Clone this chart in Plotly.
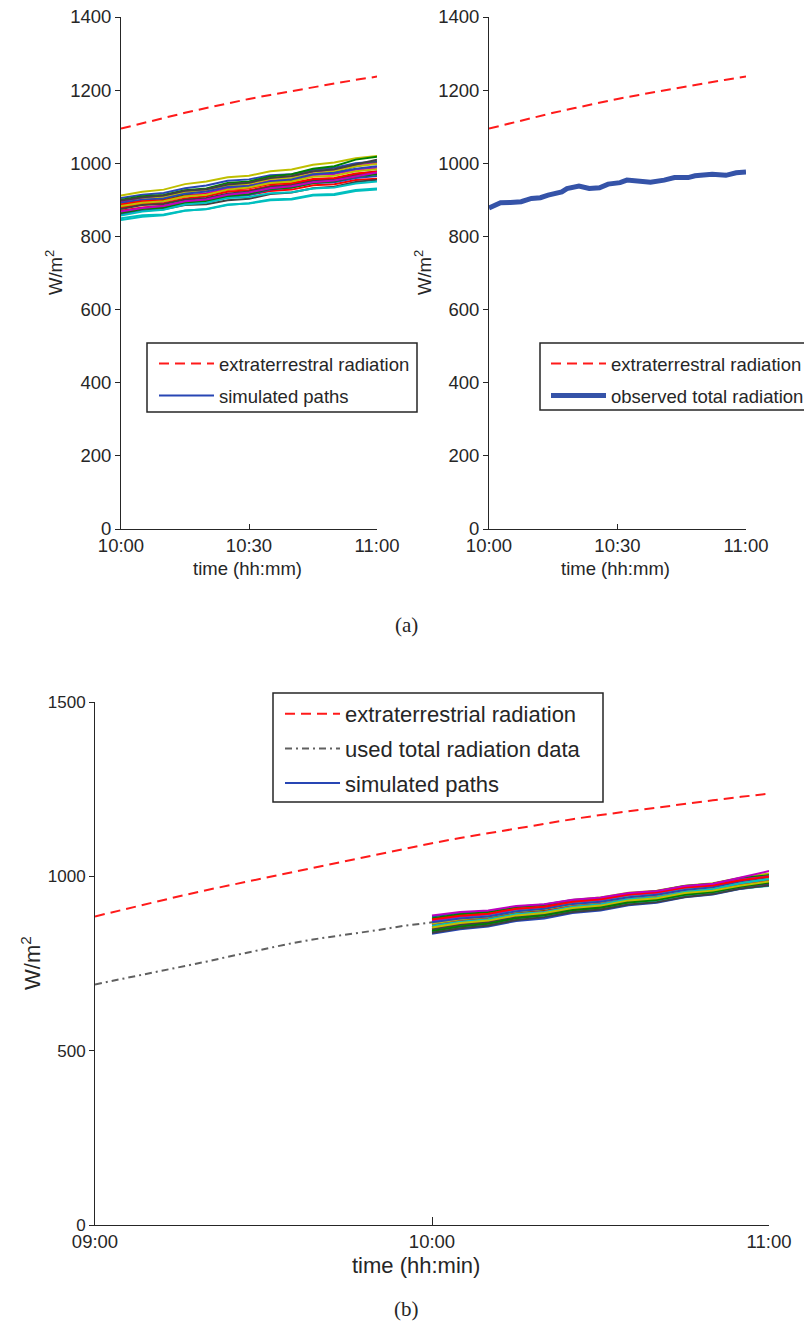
import plotly.graph_objects as go

# ---------------- data (time in minutes after 09:00) ----------------
t5_full = [0, 5, 10, 15, 20, 25, 30, 35, 40, 45, 50, 55, 60,
           65, 70, 75, 80, 85, 90, 95, 100, 105, 110, 115, 120]
ext_rad = [885, 905, 924, 943, 961, 978, 995, 1012, 1029, 1045, 1062, 1078, 1095,
           1110, 1124, 1138, 1151, 1164, 1176, 1187, 1198, 1208, 1218, 1228, 1237]

t_used = [0, 5, 10, 15, 20, 25, 30, 35, 40, 45, 50, 55, 60]
used_rad = [690, 706, 722, 740, 756, 774, 791, 808, 822, 833, 845, 858, 868]

t_obs = [60, 61, 62.7, 65, 67.5, 69.9, 72, 73.8, 76, 77, 78.2, 81, 83.4, 85.8,
         87.8, 90.6, 92.2, 95.3, 97.7, 100.9, 103.3, 106.5, 108.1, 112.1, 115.3, 117.7, 120]
obs_rad = [878, 883, 892, 893, 895, 904, 906, 913, 917, 922, 931, 938, 931, 933,
           943, 947, 954, 952, 948, 954, 961, 961, 966, 970, 967, 974, 976]

t_sim = [60, 65, 70, 75, 80, 85, 90, 95, 100, 105, 110, 115, 120]

sim_a = [
    [905, 914, 919, 932, 939, 952, 956, 967, 970, 982, 988, 1000, 1005],
    [885, 895, 900, 913, 916, 929, 934, 947, 953, 968, 976, 992, 1002],
    [870, 879, 884, 895, 900, 912, 914, 924, 928, 940, 943, 954, 958],
    [850, 858, 860, 871, 874, 886, 891, 901, 903, 914, 916, 927, 931],
    [878, 889, 895, 910, 918, 932, 940, 953, 956, 968, 971, 982, 988],
    [912, 922, 928, 943, 950, 962, 966, 978, 983, 996, 1002, 1014, 1020],
    [862, 870, 874, 886, 888, 899, 903, 916, 920, 932, 936, 949, 955],
    [860, 870, 876, 888, 895, 908, 913, 928, 934, 946, 948, 960, 965],
    [900, 910, 913, 926, 931, 946, 950, 964, 970, 985, 992, 1010, 1018],
    [880, 888, 891, 904, 910, 922, 926, 938, 942, 954, 958, 967, 972],
    [845, 854, 858, 870, 875, 887, 890, 899, 901, 912, 913, 924, 928],
    [895, 905, 910, 922, 928, 941, 946, 959, 964, 977, 981, 994, 1000],
    [890, 901, 907, 920, 924, 938, 944, 957, 960, 972, 978, 992, 998],
    [875, 886, 889, 900, 905, 917, 923, 936, 940, 952, 956, 970, 978],
    [892, 900, 904, 917, 923, 935, 938, 950, 956, 970, 974, 985, 992],
    [865, 875, 879, 892, 897, 910, 916, 930, 934, 946, 951, 964, 970],
    [887, 896, 898, 910, 915, 927, 932, 943, 946, 957, 960, 972, 977],
    [857, 868, 873, 887, 892, 905, 908, 918, 921, 931, 934, 945, 950],
    [868, 878, 883, 896, 901, 914, 920, 932, 937, 948, 953, 965, 975],
    [883, 892, 896, 909, 914, 928, 934, 946, 950, 963, 966, 978, 984],
    [898, 907, 912, 925, 929, 942, 947, 960, 965, 978, 984, 998, 1010],
]

sim_b = [
    [885, 895, 900, 913, 919, 932, 938, 951, 956, 970, 978, 994, 1005],
    [862, 874, 880, 895, 901, 915, 920, 934, 940, 954, 961, 977, 990],
    [850, 863, 871, 886, 893, 908, 914, 929, 935, 950, 958, 974, 983],
    [870, 882, 889, 904, 910, 924, 931, 945, 951, 964, 970, 984, 995],
    [845, 859, 867, 882, 889, 904, 910, 924, 931, 946, 954, 970, 978],
    [878, 890, 896, 911, 918, 932, 939, 953, 959, 973, 980, 996, 1008],
    [855, 868, 875, 890, 896, 911, 918, 932, 938, 953, 960, 975, 986],
    [835, 848, 856, 872, 879, 895, 902, 917, 924, 940, 948, 964, 975],
    [880, 891, 897, 911, 917, 931, 937, 951, 957, 972, 979, 995, 1003],
    [860, 872, 878, 893, 900, 915, 922, 936, 942, 957, 964, 979, 990],
    [840, 854, 862, 878, 886, 901, 908, 922, 929, 944, 951, 966, 972],
    [873, 885, 891, 906, 912, 927, 933, 947, 953, 968, 975, 991, 1000],
    [865, 877, 884, 899, 906, 920, 926, 940, 946, 960, 967, 983, 996],
    [848, 861, 868, 884, 891, 906, 912, 927, 934, 949, 956, 971, 980],
    [868, 879, 885, 900, 907, 921, 927, 940, 947, 961, 969, 986, 998],
    [843, 856, 864, 880, 888, 903, 910, 925, 932, 947, 955, 971, 982],
    [876, 887, 893, 907, 913, 927, 934, 948, 954, 968, 974, 989, 999],
    [858, 870, 877, 892, 898, 913, 920, 934, 940, 955, 963, 980, 992],
    [888, 898, 902, 915, 920, 933, 939, 952, 958, 972, 979, 997, 1015],
    [853, 866, 873, 888, 895, 909, 916, 931, 937, 952, 959, 974, 985],
    [838, 851, 859, 875, 883, 898, 905, 919, 926, 941, 949, 965, 974],
]

path_colors = ["#2846b4", "#008000", "#ff0000", "#00bfbf", "#bf00bf", "#bfbf00", "#404040"]

top_tickvals = [60, 90, 120]
top_ticktext = ["10:00", "10:30", "11:00"]
bot_tickvals = [0, 60, 120]
bot_ticktext = ["09:00", "10:00", "11:00"]

# ---------------- figure ----------------
W, H = 812, 1328
OFF = 8  # page body margin
FONT = "Liberation Sans, Arial, sans-serif"
SERIF = "Liberation Serif, DejaVu Serif, serif"
TXT = "#262626"
RED = "#ff1a1a"
TOPF = 18.5
BOTF = 22

def px(x):
    return (x - OFF) / W

def py(y):
    return 1 - (y - OFF) / H

fig = go.Figure()

# top-left
fig.add_trace(go.Scatter(x=t5_full[12:], y=ext_rad[12:], mode="lines",
                         line=dict(color=RED, width=2, dash="10px,6px"),
                         name="extraterrestral radiation", xaxis="x", yaxis="y",
                         legend="legend", legendrank=1))
for i, p in enumerate(sim_a):
    fig.add_trace(go.Scatter(x=t_sim, y=p, mode="lines",
                             line=dict(color=path_colors[i % 7], width=2),
                             name="simulated paths", showlegend=(i == 0),
                             xaxis="x", yaxis="y", legend="legend", legendrank=2))

# top-right
fig.add_trace(go.Scatter(x=t5_full[12:], y=ext_rad[12:], mode="lines",
                         line=dict(color=RED, width=2, dash="10px,6px"),
                         name="extraterrestral radiation", xaxis="x2", yaxis="y2",
                         legend="legend2", legendrank=1))
fig.add_trace(go.Scatter(x=t_obs, y=obs_rad, mode="lines",
                         line=dict(color="#3553a8", width=5),
                         name="observed total radiation", xaxis="x2", yaxis="y2",
                         legend="legend2", legendrank=2))

# bottom
fig.add_trace(go.Scatter(x=t5_full, y=ext_rad, mode="lines",
                         line=dict(color=RED, width=2, dash="10px,6px"),
                         name="extraterrestrial radiation", xaxis="x3", yaxis="y3",
                         legend="legend3", legendrank=1))
fig.add_trace(go.Scatter(x=t_used, y=used_rad, mode="lines",
                         line=dict(color="#606060", width=2, dash="7px,4px,2px,4px"),
                         name="used total radiation data", xaxis="x3", yaxis="y3",
                         legend="legend3", legendrank=2))
for i, p in enumerate(sim_b):
    fig.add_trace(go.Scatter(x=t_sim, y=p, mode="lines",
                             line=dict(color=path_colors[i % 7], width=2),
                             name="simulated paths", showlegend=(i == 0),
                             xaxis="x3", yaxis="y3", legend="legend3", legendrank=3))

axis_common = dict(showline=True, linecolor=TXT, linewidth=1, showgrid=False,
                   zeroline=False, tickcolor=TXT, automargin=False,
                   ticklabeloverflow="allow",
                   tickfont=dict(family=FONT, size=TOPF, color=TXT))

xa = dict(axis_common, ticks="inside", ticklen=5, tickmode="array",
          range=[60, 120], tickvals=top_tickvals, ticktext=top_ticktext)
ya = dict(axis_common, ticks="outside", ticklen=5, range=[0, 1400], dtick=200)

leg_common = dict(xanchor="left", yanchor="top", xref="paper", yref="paper",
                  bgcolor="rgba(0,0,0,0)", borderwidth=0, itemwidth=55)


def title_ann(text, x, y, size, angle=0, family=FONT):
    return dict(text=text, x=px(x), y=py(y), xref="paper", yref="paper",
                showarrow=False, textangle=angle, xanchor="center", yanchor="middle",
                font=dict(family=family, size=size, color=TXT))


fig.update_layout(
    width=W, height=H,
    margin=dict(l=0, r=0, t=0, b=0, autoexpand=False),
    paper_bgcolor="white", plot_bgcolor="white",
    showlegend=True,
    xaxis=dict(xa, domain=[px(121), px(377)], anchor="y"),
    yaxis=dict(ya, domain=[py(529), py(17)], anchor="x"),
    xaxis2=dict(xa, domain=[px(489), px(746)], anchor="y2"),
    yaxis2=dict(ya, domain=[py(529), py(17)], anchor="x2"),
    xaxis3=dict(axis_common, ticks="inside", ticklen=8, tickmode="array",
                range=[0, 120], tickvals=bot_tickvals, ticktext=bot_ticktext,
                domain=[px(95), px(769)], anchor="y3",
                tickfont=dict(family=FONT, size=18.5, color=TXT)),
    yaxis3=dict(axis_common, ticks="outside", ticklen=5, range=[0, 1500], dtick=500,
                domain=[py(1225), py(702)], anchor="x3",
                tickfont=dict(family=FONT, size=17, color=TXT)),
    legend=dict(leg_common, x=px(154), y=py(345),
                font=dict(family=FONT, size=TOPF, color=TXT), tracegroupgap=5),
    legend2=dict(leg_common, x=px(546), y=py(345),
                 font=dict(family=FONT, size=TOPF, color=TXT), tracegroupgap=5),
    legend3=dict(leg_common, x=px(280), y=py(693),
                 font=dict(family=FONT, size=BOTF, color=TXT), tracegroupgap=3),
    shapes=[
        dict(type="rect", xref="paper", yref="paper", x0=px(147), x1=px(417),
             y0=py(412), y1=py(343), line=dict(color=TXT, width=1.5), fillcolor="white", layer="below"),
        dict(type="rect", xref="paper", yref="paper", x0=px(540), x1=px(811),
             y0=py(410), y1=py(343), line=dict(color=TXT, width=1.5), fillcolor="white", layer="below"),
        dict(type="rect", xref="paper", yref="paper", x0=px(273), x1=px(603),
             y0=py(802), y1=py(693), line=dict(color=TXT, width=1.5), fillcolor="white", layer="above"),
    ],
    annotations=[
        title_ann("time (hh:mm)", 247, 568, TOPF),
        title_ann("time (hh:mm)", 615, 568, TOPF),
        title_ann("W/m<sup>2</sup>", 54, 273, TOPF, -90),
        title_ann("W/m<sup>2</sup>", 423, 273, TOPF, -90),
        title_ann("time (hh:min)", 416, 1265, BOTF),
        title_ann("W/m<sup>2</sup>", 31, 963, BOTF, -90),
        title_ann("(a)", 406, 625, 21, 0, SERIF),
        title_ann("(b)", 406, 1309, 21, 0, SERIF),
    ],
)

for i in range(len(fig.data)):
    tr = fig.data[i]
    tr.legendgroup = tr.name + str(tr.legend)

fig.write_html("out.html")
